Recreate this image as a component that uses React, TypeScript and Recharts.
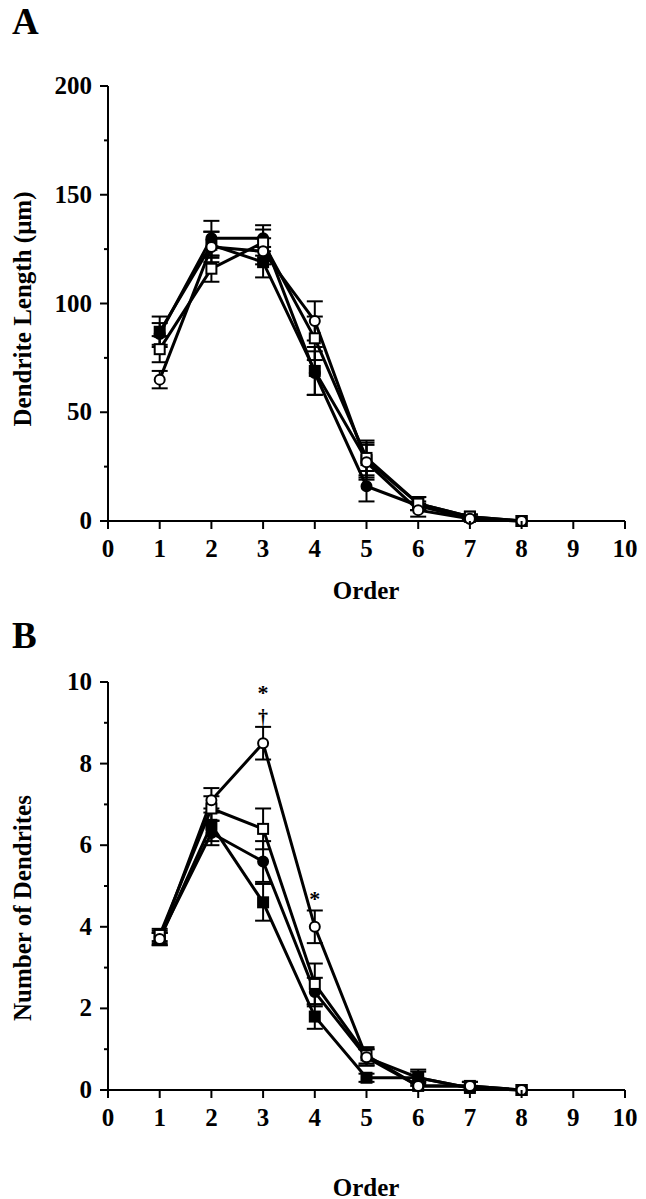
import { LineChart, Line, XAxis, YAxis, ErrorBar, ReferenceDot } from 'recharts';

const orders = [1, 2, 3, 4, 5, 6, 7, 8];
const xTicks = [0, 1, 2, 3, 4, 5, 6, 7, 8, 9, 10];

// Panel A: dendrite length (um)
const lenFilledCircle = [86, 130, 130, 68, 16, 7, 1, 0];
const lenFilledCircleErr = [5, 8, 6, 10, 7, 2, 1, 0];
const lenFilledSquare = [87, 127, 119, 69, 28, 8, 2, 0];
const lenFilledSquareErr = [7, 6, 7, 11, 8, 3, 1, 0];
const lenOpenCircle = [65, 126, 124, 92, 27, 5, 1, 0];
const lenOpenCircleErr = [4, 7, 6, 9, 8, 3, 1, 0];
const lenOpenSquare = [79, 116, 128, 84, 29, 8, 2, 0];
const lenOpenSquareErr = [6, 6, 6, 10, 8, 3, 1, 0];
const lenTicks = [0, 25, 50, 75, 100, 125, 150, 175, 200];

// Panel B: number of dendrites
const numFilledCircle = [3.75, 6.3, 5.6, 2.4, 0.8, 0.3, 0.05, 0];
const numFilledCircleErr = [0.15, 0.3, 0.5, 0.35, 0.2, 0.15, 0.05, 0];
const numFilledSquare = [3.7, 6.5, 4.6, 1.8, 0.3, 0.3, 0.05, 0];
const numFilledSquareErr = [0.15, 0.4, 0.45, 0.3, 0.1, 0.2, 0.05, 0];
const numOpenCircle = [3.7, 7.1, 8.5, 4.0, 0.8, 0.1, 0.1, 0];
const numOpenCircleErr = [0.15, 0.3, 0.4, 0.4, 0.2, 0.1, 0.1, 0];
const numOpenSquare = [3.8, 6.9, 6.4, 2.6, 0.85, 0.1, 0.1, 0];
const numOpenSquareErr = [0.15, 0.3, 0.5, 0.5, 0.2, 0.1, 0.1, 0];
const numTicks = [0, 1, 2, 3, 4, 5, 6, 7, 8, 9, 10];

const FONT = '"Liberation Serif", "DejaVu Serif", serif';
const TICK_FONT = 25;

const buildRows = (fc: number[], fce: number[], fs: number[], fse: number[], oc: number[], oce: number[], os: number[], ose: number[]) =>
  orders.map((o, i) => ({
    order: o,
    fc: fc[i], fcErr: fce[i],
    fs: fs[i], fsErr: fse[i],
    oc: oc[i], ocErr: oce[i],
    os: os[i], osErr: ose[i],
  }));

const dataA = buildRows(lenFilledCircle, lenFilledCircleErr, lenFilledSquare, lenFilledSquareErr, lenOpenCircle, lenOpenCircleErr, lenOpenSquare, lenOpenSquareErr);
const dataB = buildRows(numFilledCircle, numFilledCircleErr, numFilledSquare, numFilledSquareErr, numOpenCircle, numOpenCircleErr, numOpenSquare, numOpenSquareErr);

const makeDot = (kind: string) => (props: any) => {
  const { cx, cy, index } = props;
  const key = `${kind}-${index}`;
  if (cx == null || cy == null) return <g key={key} />;
  const filled = kind.startsWith('f');
  const fill = filled ? '#000' : '#fff';
  if (kind.endsWith('c')) {
    return <circle key={key} cx={cx} cy={cy} r={5} fill={fill} stroke="#000" strokeWidth={2} />;
  }
  return <rect key={key} x={cx - 5} y={cy - 5} width={10} height={10} fill={fill} stroke="#000" strokeWidth={2} />;
};

const makeYTick = (majorStep: number) => (props: any) => {
  const { x, y, payload } = props;
  const major = payload.value % majorStep === 0;
  return (
    <g>
      <line x1={x - (major ? 8 : 4)} x2={x} y1={y} y2={y} stroke="#000" strokeWidth={2} />
      {major && (
        <text x={x - 16} y={y + 8} textAnchor="end" fontFamily={FONT} fontWeight="bold" fontSize={TICK_FONT} fill="#000">
          {payload.value}
        </text>
      )}
    </g>
  );
};

const XTick = (props: any) => {
  const { x, y, payload } = props;
  return (
    <g>
      <line x1={x} x2={x} y1={y} y2={y + 8} stroke="#000" strokeWidth={2} />
      <text x={x} y={y + 36} textAnchor="middle" fontFamily={FONT} fontWeight="bold" fontSize={TICK_FONT} fill="#000">
        {payload.value}
      </text>
    </g>
  );
};

const seriesKeys = ['fc', 'fs', 'os', 'oc'];

function Panel({ data, domain, ticks, majorStep, height, margin, children }: any) {
  return (
    <LineChart width={646} height={height} data={data} margin={margin}>
      <XAxis
        dataKey="order"
        type="number"
        domain={[0, 10]}
        ticks={xTicks}
        interval={0}
        height={30}
        tickSize={0}
        tickMargin={0}
        tickLine={false}
        axisLine={{ stroke: '#000', strokeWidth: 2 }}
        tick={XTick}
      />
      <YAxis
        type="number"
        domain={domain}
        ticks={ticks}
        interval={0}
        width={108}
        tickSize={0}
        tickMargin={0}
        tickLine={false}
        axisLine={{ stroke: '#000', strokeWidth: 2 }}
        tick={makeYTick(majorStep)}
      />
      {seriesKeys.map((k) => (
        <Line
          key={k}
          dataKey={k}
          type="linear"
          stroke="#000"
          strokeWidth={3}
          dot={makeDot(k)}
          activeDot={false}
          isAnimationActive={false}
        >
          <ErrorBar dataKey={`${k}Err`} width={8} stroke="#000" strokeWidth={2} />
        </Line>
      ))}
      {children}
    </LineChart>
  );
}

const markStyle = { fontFamily: FONT, fontWeight: 'bold', fontSize: 22, fill: '#000' };

export default function App() {
  const abs = (left: number, top: number, extra: any = {}) => ({
    position: 'absolute' as const,
    left,
    top,
    fontFamily: FONT,
    fontWeight: 'bold' as const,
    color: '#000',
    lineHeight: 1,
    whiteSpace: 'nowrap' as const,
    ...extra,
  });
  return (
    <div style={{ position: 'absolute', left: 0, top: 0, width: 646, height: 1199, background: '#fff' }}>
      <div style={{ position: 'absolute', left: 0, top: 0 }}>
        <Panel data={dataA} domain={[0, 200]} ticks={lenTicks} majorStep={50} height={600} margin={{ top: 86, right: 21, bottom: 49, left: 0 }} />
      </div>
      <div style={{ position: 'absolute', left: 0, top: 600 }}>
        <Panel data={dataB} domain={[0, 10]} ticks={numTicks} majorStep={2} height={599} margin={{ top: 82, right: 21, bottom: 79, left: 0 }}>
          <ReferenceDot x={3} y={9.75} r={0} label={{ value: '*', position: 'center', ...markStyle }} />
          <ReferenceDot x={3} y={9.15} r={0} label={{ value: '†', position: 'center', ...markStyle, fontSize: 20 }} />
          <ReferenceDot x={4} y={4.7} r={0} label={{ value: '*', position: 'center', ...markStyle }} />
        </Panel>
      </div>
      <div style={abs(12, 3, { fontSize: 37 })}>A</div>
      <div style={abs(12, 617, { fontSize: 37 })}>B</div>
      <div style={abs(22, 309, { fontSize: 25, transform: 'translate(-50%, -50%) rotate(-90deg)' })}>Dendrite Length (μm)</div>
      <div style={abs(22, 908, { fontSize: 25, transform: 'translate(-50%, -50%) rotate(-90deg)' })}>Number of Dendrites</div>
      <div style={abs(366, 590, { fontSize: 25, transform: 'translate(-50%, -50%)' })}>Order</div>
      <div style={abs(366, 1187, { fontSize: 25, transform: 'translate(-50%, -50%)' })}>Order</div>
    </div>
  );
}
